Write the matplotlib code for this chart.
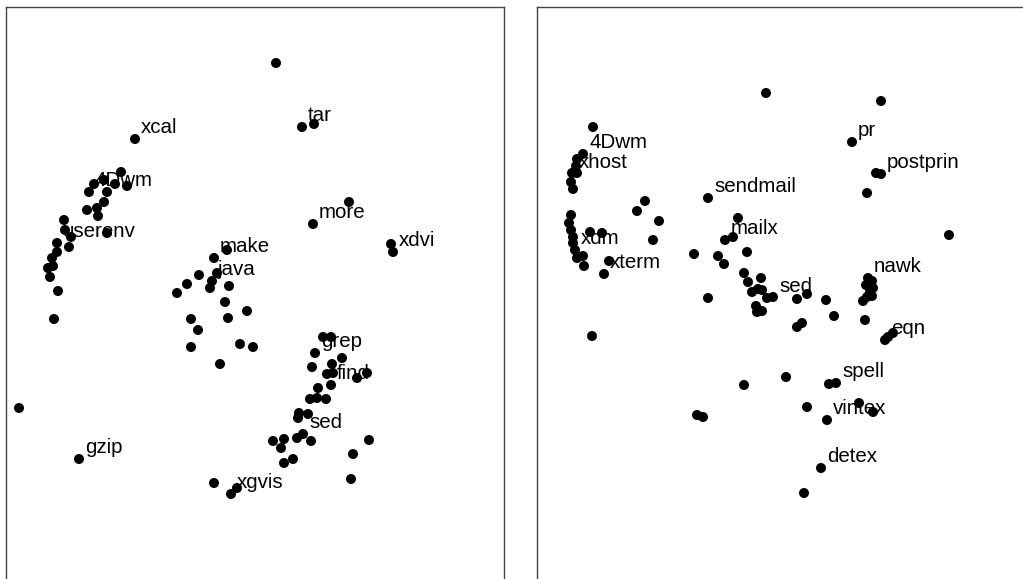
import matplotlib
matplotlib.use('Agg')
import matplotlib.pyplot as plt

plt.rcParams['font.family'] = ['Liberation Sans', 'DejaVu Sans']

# left panel: point positions (screen units, y grows downwards)
left_x = [276, 302, 314, 135,
          121, 104, 94, 115, 127, 89, 107, 104, 97, 87, 98,
          64, 65, 71, 69, 57, 57, 52, 53, 48, 50, 107, 58, 54,
          349, 313, 391, 393,
          227, 214, 217, 212, 199, 187, 177, 210, 229, 225, 247, 228, 191, 198, 191, 240, 253, 220,
          323, 331, 315, 312, 342, 332, 327, 333, 357, 367, 331, 318, 310, 317, 326, 299, 308, 298,
          303, 297, 311, 273, 284, 281, 293, 284, 369, 353, 351,
          19, 79, 214, 237, 231]
left_y = [63, 127, 124, 139,
          172, 180, 184, 184, 186, 192, 192, 202, 208, 210, 216,
          220, 230, 237, 247, 243, 252, 258, 266, 268, 277, 233, 291, 319,
          202, 224, 244, 252,
          250, 258, 273, 281, 275, 284, 293, 288, 286, 302, 311, 318, 319, 330, 347, 344, 347, 364,
          337, 337, 353, 367, 358, 364, 374, 373, 378, 373, 385, 388, 399, 398, 399, 413, 414, 418,
          434, 438, 441, 441, 439, 448, 459, 463, 440, 454, 479,
          408, 459, 483, 488, 494]
left_names = ['xcal', 'tar', 'more', '4Dwm', 'userenv', 'xdvi', 'make', 'java',
              'grep', 'find', 'sed', 'gzip', 'xgvis']
left_lab_x = [135, 302, 313, 89, 57, 393, 214, 212, 315, 331, 303, 79, 231]
left_lab_y = [139, 127, 224, 192, 243, 252, 258, 281, 353, 385, 434, 459, 494]

# right panel
right_x = [766, 881, 593, 852, 876, 881,
           583, 577, 576, 572, 577, 571, 573,
           708, 867, 645, 637, 659, 653,
           571, 569, 571, 573, 573, 575, 577, 583, 584, 590, 602,
           609, 604, 592,
           738, 733, 725, 949, 694, 718, 747, 724,
           744, 748, 761, 752, 758, 762, 767, 773, 708, 756, 757, 762,
           797, 807, 826, 834, 797, 802, 865,
           868, 872, 866, 873, 870, 872, 867, 863,
           885, 888, 893,
           744, 786, 829, 836, 697, 703, 807, 859, 873, 827, 821, 804]
right_y = [93, 101, 127, 142, 173, 174,
           154, 159, 166, 173, 173, 182, 189,
           198, 193, 201, 211, 221, 240,
           215, 223, 230, 237, 243, 250, 258, 256, 266, 232, 233,
           261, 274, 336,
           218, 237, 240, 235, 254, 256, 252, 264,
           273, 282, 278, 292, 289, 290, 298, 297, 298, 306, 312, 311,
           299, 294, 300, 316, 327, 323, 320,
           278, 281, 285, 288, 292, 296, 297, 301,
           340, 337, 333,
           385, 377, 384, 383, 415, 417, 407, 403, 412, 420, 468, 493]
right_names = ['pr', 'postprin', '4Dwm', 'xhost', 'sendmail', 'xdm', 'xterm',
               'mailx', 'sed', 'nawk', 'eqn', 'spell', 'vintex', 'detex']
right_lab_x = [852, 881, 583, 573, 708, 575, 604, 725, 773, 868, 885, 836, 827, 821]
right_lab_y = [142, 174, 154, 174, 198, 250, 274, 240, 298, 278, 340, 383, 420, 468]

W, H = 1023, 579
fig = plt.figure(figsize=(W / 100, H / 100), dpi=100)

panels = [
    (6, left_x, left_y, left_names, left_lab_x, left_lab_y),
    (537, right_x, right_y, right_names, right_lab_x, right_lab_y),
]
for x0, xs, ys, names, lx, ly in panels:
    top, bottom, width = 7, 600, 498
    ax = fig.add_axes([x0 / W, (H - bottom) / H, width / W, (bottom - top) / H])
    ax.scatter(xs, ys, s=52, color='black', edgecolors='none', zorder=3)
    for name, px, py in zip(names, lx, ly):
        ax.annotate(name, xy=(px, py), xytext=(6, 6), textcoords='offset pixels',
                    fontsize=14.8, ha='left', va='baseline', color='black',
                    arrowprops=dict(arrowstyle='-', lw=0.8, color='black',
                                    shrinkA=0, shrinkB=0))
    ax.set_xlim(x0, x0 + width)
    ax.set_ylim(bottom, top)
    ax.set_xticks([])
    ax.set_yticks([])
    for sp in ax.spines.values():
        sp.set_color('#444444')
        sp.set_linewidth(1.0)

fig.savefig('out.png', dpi=100)
